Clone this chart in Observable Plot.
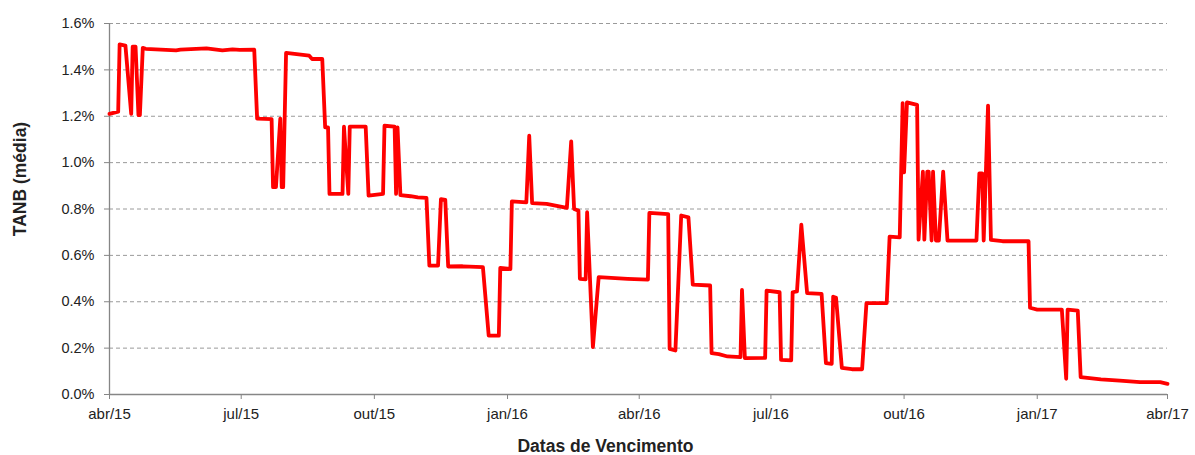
<!DOCTYPE html>
<html><head><meta charset="utf-8">
<script src="https://cdn.jsdelivr.net/npm/d3@7"></script>
<script src="https://cdn.jsdelivr.net/npm/@observablehq/plot@0.6"></script>
<style>body{margin:0;background:#fff;font-family:"Liberation Sans",Arial,sans-serif}</style>
</head><body><div id="chart"></div>
<script>
const dates = [
"2015-04-01","2015-04-07","2015-04-08","2015-04-12","2015-04-16","2015-04-17","2015-04-19","2015-04-21","2015-04-22","2015-04-24",
"2015-04-26","2015-05-17","2015-05-20","2015-06-07","2015-06-18","2015-06-25","2015-06-30","2015-07-10","2015-07-12","2015-07-22",
"2015-07-23","2015-07-25","2015-07-28","2015-07-29","2015-07-30","2015-08-01","2015-08-17","2015-08-19","2015-08-26","2015-08-28",
"2015-08-30","2015-08-31","2015-09-09","2015-09-10","2015-09-13","2015-09-14","2015-09-25","2015-09-27","2015-10-07","2015-10-08",
"2015-10-15","2015-10-16","2015-10-17","2015-10-19","2015-10-26","2015-10-31","2015-11-06","2015-11-08","2015-11-14","2015-11-16",
"2015-11-19","2015-11-21","2015-12-01","2015-12-15","2015-12-19","2015-12-26","2015-12-27","2016-01-03","2016-01-04","2016-01-14",
"2016-01-16","2016-01-18","2016-01-28","2016-02-11","2016-02-14","2016-02-16","2016-02-19","2016-02-20","2016-02-24","2016-02-25",
"2016-02-29","2016-03-04","2016-03-24","2016-04-07","2016-04-08","2016-04-21","2016-04-22","2016-04-26","2016-04-28","2016-04-30",
"2016-05-05","2016-05-08","2016-05-20","2016-05-21","2016-05-26","2016-06-01","2016-06-10","2016-06-11","2016-06-13","2016-06-27",
"2016-06-28","2016-07-07","2016-07-08","2016-07-15","2016-07-16","2016-07-19","2016-07-22","2016-07-26","2016-08-05","2016-08-08",
"2016-08-12","2016-08-13","2016-08-15","2016-08-19","2016-08-26","2016-09-02","2016-09-05","2016-09-19","2016-09-21","2016-09-28",
"2016-09-30","2016-10-01","2016-10-03","2016-10-10","2016-10-11","2016-10-14","2016-10-15","2016-10-17","2016-10-18","2016-10-20",
"2016-10-21","2016-10-23","2016-10-25","2016-10-28","2016-10-31","2016-11-20","2016-11-22","2016-11-24","2016-11-25","2016-11-28",
"2016-11-30","2016-12-08","2016-12-26","2016-12-27","2017-01-01","2017-01-18","2017-01-21","2017-01-22","2017-01-29","2017-01-31",
"2017-02-14","2017-02-27","2017-03-13","2017-03-27","2017-04-01"];
const values = [
1.21,1.22,1.51,1.505,1.21,1.50,1.50,1.205,1.205,1.495,
1.491,1.484,1.487,1.493,1.484,1.488,1.486,1.487,1.19,1.188,
0.894,0.894,1.19,0.894,0.894,1.473,1.461,1.447,1.447,1.152,
1.152,0.865,0.865,1.155,0.865,1.155,1.155,0.858,0.865,1.159,
1.155,0.865,1.152,0.86,0.855,0.85,0.848,0.556,0.556,0.843,
0.839,0.552,0.553,0.549,0.254,0.254,0.546,0.541,0.833,0.829,
1.116,0.825,0.822,0.805,1.092,0.80,0.793,0.499,0.497,0.786,
0.204,0.506,0.499,0.495,0.783,0.778,0.197,0.19,0.48,0.772,
0.764,0.474,0.47,0.178,0.174,0.164,0.161,0.451,0.157,0.158,
0.448,0.441,0.149,0.147,0.441,0.445,0.733,0.437,0.434,0.135,
0.132,0.422,0.417,0.115,0.109,0.109,0.394,0.394,0.681,0.678,
1.257,0.958,1.26,1.249,0.668,0.961,0.668,0.961,0.961,0.664,
0.961,0.664,0.664,0.961,0.664,0.664,0.954,0.954,0.664,1.246,
0.667,0.661,0.661,0.374,0.366,0.366,0.068,0.366,0.362,0.075,
0.065,0.06,0.053,0.053,0.046];
const tickDates = ["2015-04-01","2015-07-01","2015-10-01","2016-01-01","2016-04-01","2016-07-01","2016-10-01","2017-01-01","2017-04-01"];
const tickLabels = ["abr/15","jul/15","out/15","jan/16","abr/16","jul/16","out/16","jan/17","abr/17"];
const yTicks = [0,0.2,0.4,0.6,0.8,1.0,1.2,1.4,1.6];
const yTitle = "TANB (média)";
const xTitle = "Datas de Vencimento";

const toDate = s => new Date(s + "T00:00:00Z");
const data = dates.map((d, i) => ({date: toDate(d), value: values[i]}));
const xTicks = tickDates.map(toDate);
const labelOf = new Map(xTicks.map((d, i) => [+d, tickLabels[i]]));

const chart = Plot.plot({
  width: 1195,
  height: 455,
  marginLeft: 109,
  marginRight: 28,
  marginTop: 23,
  marginBottom: 61,
  style: {fontFamily: '"Liberation Sans", Arial, sans-serif', background: "#fff"},
  x: {type: "utc", domain: [xTicks[0], xTicks[xTicks.length - 1]]},
  y: {domain: [0, 1.6]},
  marks: [
    Plot.gridY(yTicks.slice(1), {stroke: "#9a9a9a", strokeOpacity: 1, strokeDasharray: "4,3", strokeWidth: 1}),
    Plot.ruleY([0], {stroke: "#868686", strokeWidth: 1.3}),
    Plot.ruleX([xTicks[0]], {stroke: "#868686", strokeWidth: 1.3}),
    Plot.axisY(yTicks, {tickSize: 5, tickPadding: 10, tickFormat: d => d.toFixed(1) + "%", fontSize: 14.5, fill: "#222", stroke: "#868686", label: null}),
    Plot.axisX(xTicks, {tickSize: 5, tickPadding: 9, tickFormat: d => labelOf.get(+d), fontSize: 15, fill: "#222", stroke: "#868686", label: null}),
    Plot.line(data, {x: "date", y: "value", stroke: "#ff0000", strokeWidth: 3.8}),
    Plot.text([yTitle], {frameAnchor: "left", dx: -89, dy: -30, rotate: -90, textAnchor: "middle", lineAnchor: "middle", fontWeight: "bold", fontSize: 17.5, fill: "#222"}),
    Plot.text([xTitle], {frameAnchor: "bottom", dx: -33, dy: 52, textAnchor: "middle", lineAnchor: "middle", fontWeight: "bold", fontSize: 17.5, fill: "#222"})
  ]
});
document.getElementById("chart").appendChild(chart);
</script>
</body></html>
